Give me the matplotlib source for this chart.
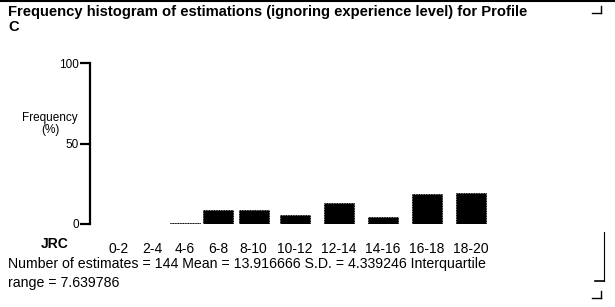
import matplotlib.pyplot as plt
from matplotlib.lines import Line2D

plt.rcParams['font.family'] = ['Liberation Sans', 'DejaVu Sans']

# data
bins = ["0-2", "2-4", "4-6", "6-8", "8-10", "10-12", "12-14", "14-16", "16-18", "18-20"]
freq = [0.0, 0.0, 0.7, 9.0, 9.0, 5.6, 13.2, 4.2, 18.8, 19.4]
yticks = [0, 50, 100]
title = "Frequency histogram of estimations (ignoring experience level) for Profile\nC"
stats = "Number of estimates = 144 Mean = 13.916666 S.D. = 4.339246 Interquartile\nrange = 7.639786"

# slot width grows with the label length, like in the original layout
slot = [33 + (len(b) - 3) * 5.5 for b in bins]
xpos = [0.0]
for i in range(1, len(bins)):
    xpos.append(xpos[-1] + (slot[i - 1] + slot[i]) / 2)

W, H = 615, 307
fig = plt.figure(figsize=(W / 100, H / 100), dpi=100)

# axes placed in pixel coords: spine at x=90, y from 63 to 224
left, top, bottom, right = 90, 63, 224, 520
ax = fig.add_axes([left / W, 1 - bottom / H, (right - left) / W, (bottom - top) / H])
x0 = -(119 - left)
ax.set_xlim(x0, x0 + (right - left))
ax.set_ylim(0, 100)

ax.bar(xpos, freq, width=30, color="black", edgecolor="black",
       linewidth=0.6, linestyle=(0, (1.5, 1.5)))

for s in ["top", "right", "bottom"]:
    ax.spines[s].set_visible(False)
ax.spines["left"].set_linewidth(1.6)
ax.set_yticks(yticks)
ax.set_yticklabels([str(t) for t in yticks], fontsize=8.5)
ax.tick_params(axis="y", length=7, width=1.6, pad=1)
ax.set_xticks(xpos)
ax.set_xticklabels(bins, fontsize=10)
ax.tick_params(axis="x", length=0, pad=13)

fig.text(55 / W, 1 - 244 / H, "JRC", fontsize=10, fontweight="bold", ha="center", va="center")
fig.text(50 / W, 1 - 124 / H, "Frequency\n(%)", fontsize=8.5, ha="center", va="center",
         linespacing=1.1)

fig.text(8 / W, 1 - 5 / H, title, fontsize=10.6, fontweight="bold", ha="left", va="top",
         linespacing=1.1)
fig.text(8 / W, 1 - 257 / H, stats, fontsize=10.2, ha="left", va="top", linespacing=1.45)

# window chrome: top border, scroll marks and side line
fig.add_artist(Line2D([0, 1], [1 - 1 / H, 1 - 1 / H], color="black", lw=1.5))
fig.add_artist(Line2D([604 / W, 604 / W], [1 - 232 / H, 1 - 281 / H], color="black", lw=0.8))
fig.add_artist(Line2D([595 / W, 604 / W], [1 - 281 / H, 1 - 281 / H], color="black", lw=1.2))
for yy in (10, 295):
    fig.add_artist(Line2D([592 / W, 601 / W], [1 - (yy + 3) / H, 1 - (yy + 3) / H], color="black", lw=1))
    fig.add_artist(Line2D([601 / W, 601 / W], [1 - (yy - 4) / H, 1 - (yy + 3) / H], color="black", lw=1))

fig.savefig("out.png", dpi=100)
